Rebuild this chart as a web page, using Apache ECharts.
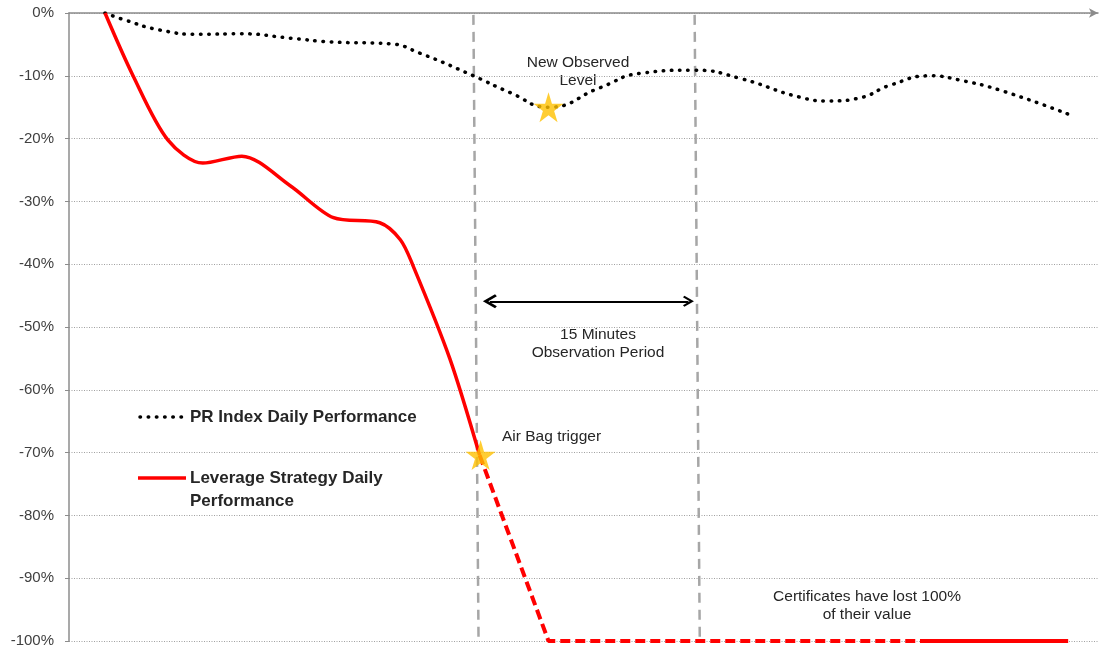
<!DOCTYPE html>
<html><head><meta charset="utf-8">
<script src="https://cdn.jsdelivr.net/npm/echarts@6/dist/echarts.min.js"></script>
<style>html,body{margin:0;padding:0;background:#fff}#c{width:1100px;height:650px}</style>
</head><body><div id="c"></div>
<script>
// ---- data (x: time units 0..100, y: performance %) ----
const yTicks = [0,-10,-20,-30,-40,-50,-60,-70,-80,-90,-100];
const prX = [3.5,5.4,8.8,12.7,16.6,21.5,25.4,31.2,34.1,39.3,42.9,46.6,51.6,55.5,60.8,65.2,71.0,74.0,76.9,79.8,83.7,86.6,90.5,97.1];
const prY = [0,-1.1,-2.7,-3.4,-3.3,-4.0,-4.6,-4.9,-6.4,-10.0,-12.7,-15.0,-11.9,-9.6,-9.1,-10.4,-13.4,-14.0,-13.5,-11.5,-10.0,-10.7,-12.3,-16.1];
const levX = [3.5,6.2,9.6,13.0,16.8,21.5,25.7,30.2,32.2,33.4,37.0,39.9];
const levY = [0,-9.9,-20.2,-23.9,-22.8,-27.5,-32.6,-33.4,-36.1,-40.1,-55.0,-70.4];
const afterX = [39.9,46.6,82.7];
const afterY = [-70.4,-100,-100];
const lostX = [82.7,97.1];
const lostY = [-100,-100];
const vLine1X = [39.3,39.8], vLine2X = [60.8,61.3], vLineY = [-0.3,-100];
const arrowX = [40.9,60.2], arrowY = [-45.9,-45.9];
const starX = [46.6,40.0], starY = [-15.0,-70.4];

const zip = (a,b) => a.map((v,i)=>[v,b[i]]);
const STAR = 'path://M50,0 L61,35 L98,35 L68,57 L79,91 L50,70 L21,91 L32,57 L2,35 L39,35 Z';
const CHEVRON = 'path://M5,0 L10,8 L8.6,9.2 L5,3.6 L1.4,9.2 L0,8 Z';
const FF = 'Liberation Sans, Arial, sans-serif';
const txt = {fontFamily:FF, fontSize:15.5, fill:'#262626', lineHeight:18};
const leg = {fontFamily:FF, fontSize:17, fontWeight:'bold', fill:'#262626', lineHeight:23, verticalAlign:'middle'};
const T = (x,y,text,st,extra) => ({type:'text',x:x,y:y,style:Object.assign({text:text},st,extra||{})});

const chart = echarts.init(document.getElementById('c'), null, {renderer:'canvas'});
chart.setOption({
  animation:false,
  grid:{left:69,right:2,top:13,bottom:9},
  xAxis:{type:'value',min:0,max:100,position:'top',
    axisLine:{show:true,lineStyle:{color:'#8c8c8c',width:1.5},symbol:['none','arrow'],symbolSize:[7,9]},
    axisTick:{show:false},axisLabel:{show:false},splitLine:{show:false}},
  yAxis:{type:'value',min:-100,max:0,interval:10,
    axisLine:{show:true,lineStyle:{color:'#8c8c8c',width:1.5}},
    axisTick:{show:true,length:4,lineStyle:{color:'#8c8c8c'}},
    axisLabel:{formatter:v=>v+'%',color:'#404040',fontSize:15,fontFamily:FF,margin:15},
    splitLine:{show:true,lineStyle:{color:'#a0a0a0',type:[1,1.5],width:1}}},
  graphic:[
    {type:'line',shape:{x1:140,y1:417,x2:182,y2:417},style:{stroke:'#000',lineWidth:3.5,lineDash:[0.5,7.7],lineCap:'round'}},
    T(190,417,'PR Index Daily Performance',leg),
    {type:'line',shape:{x1:138,y1:478,x2:186,y2:478},style:{stroke:'#ff0000',lineWidth:3.5}},
    T(190,467,'Leverage Strategy Daily\nPerformance',leg,{verticalAlign:'top'}),
    T(578,54,'New Observed\nLevel',txt,{align:'center'}),
    T(598,326,'15 Minutes\nObservation Period',txt,{align:'center'}),
    T(502,437,'Air Bag trigger',txt,{verticalAlign:'middle'}),
    T(867,588,'Certificates have lost 100%\nof their value',txt,{align:'center'})
  ],
  series:[
    {type:'line',data:zip(vLine1X,vLineY),symbol:'none',z:1,lineStyle:{color:'#a6a6a6',width:2.5,type:[10,7]}},
    {type:'line',data:zip(vLine2X,vLineY),symbol:'none',z:1,lineStyle:{color:'#a6a6a6',width:2.5,type:[10,7]}},
    {type:'line',name:'PR Index Daily Performance',data:zip(prX,prY),symbol:'none',smooth:0.5,z:3,
      lineStyle:{color:'#000',width:3.5,type:[0.5,7.7],cap:'round'}},
    {type:'line',name:'Leverage Strategy Daily Performance',data:zip(levX,levY),symbol:'none',smooth:0.3,z:3,
      lineStyle:{color:'#ff0000',width:3.5}},
    {type:'line',data:zip(afterX,afterY),symbol:'none',z:3,lineStyle:{color:'#ff0000',width:4,type:[10,5]}},
    {type:'line',data:zip(lostX,lostY),symbol:'none',z:3,lineStyle:{color:'#ff0000',width:4}},
    {type:'lines',coordinateSystem:'cartesian2d',z:4,symbol:[CHEVRON,CHEVRON],symbolSize:[14,11],
      lineStyle:{color:'#000',width:2.2,opacity:1},
      data:[{coords:zip(arrowX,arrowY)}]},
    {type:'scatter',data:zip(starX,starY),symbol:STAR,symbolSize:30,z:5,itemStyle:{color:'#ffc000'}}
  ]
});
</script></body></html>
